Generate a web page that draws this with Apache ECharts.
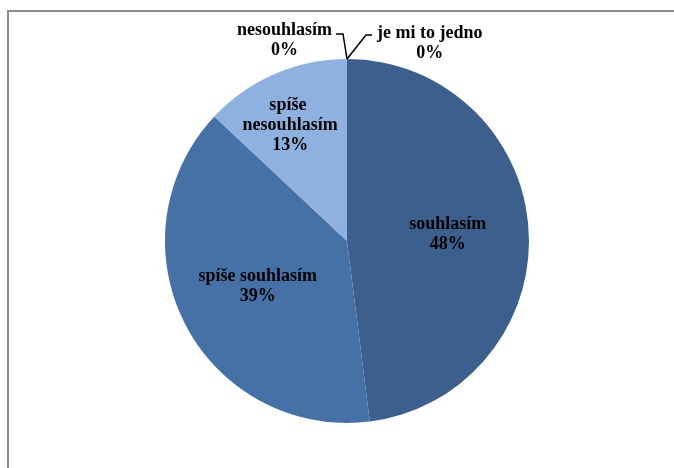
<!DOCTYPE html>
<html>
<head>
<meta charset="utf-8">
<style>
  html, body { margin: 0; padding: 0; background: #ffffff; }
  #chart { width: 674px; height: 468px; }
</style>
<script src="https://cdn.jsdelivr.net/npm/echarts@6/dist/echarts.min.js"></script>
</head>
<body>
<div id="chart"></div>
<script>
// Survey answers and their shares (percent)
const categories = ['souhlasím', 'spíše souhlasím', 'spíše nesouhlasím', 'nesouhlasím', 'je mi to jedno'];
const shares = [48, 39, 13, 0, 0];
const sliceColors = ['#3d5f8e', '#4571a7', '#8fb1e0', '#6f8fc0', '#2f4f7f'];

// Pie geometry (pixels)
const CX = 347, CY = 241, R = 182;

// Inside labels: distance from the centre as a share of the radius, plus a small sideways nudge
const insideRadius = [0.555, 0.55, 0.69];
const insideNudgeX = [0, 0, -7];

const chart = echarts.init(document.getElementById('chart'), null, { renderer: 'canvas' });

const labelFont = {
  fontFamily: '"Liberation Serif", "Times New Roman", serif',
  fontWeight: 'bold',
  fontSize: 18,
  lineHeight: 20,
  color: '#000000'
};

const seriesData = categories.map((name, i) => {
  const item = {
    name: name,
    value: shares[i],
    itemStyle: { color: sliceColors[i] }
  };
  if (shares[i] > 0) {
    item.label = Object.assign({ position: 'inside' }, labelFont);
    item.labelLine = { show: false };
    if (name === 'spíše nesouhlasím') {
      item.label.width = 115;
      item.label.overflow = 'break';
    }
  } else {
    item.label = Object.assign({ position: 'outside' }, labelFont);
    item.labelLine = { show: true, length: 20, length2: 8, lineStyle: { color: '#000000', width: 1.5 } };
  }
  return item;
});

chart.setOption({
  backgroundColor: '#ffffff',
  animation: false,
  graphic: [{
    type: 'rect',
    shape: { x: 8, y: 11, width: 720, height: 520 },
    style: { fill: 'none', stroke: '#8a8a8a', lineWidth: 2 },
    silent: true
  }],
  series: [{
    type: 'pie',
    center: [CX, CY],
    radius: R,
    startAngle: 90,
    clockwise: true,
    avoidLabelOverlap: false,
    itemStyle: { borderWidth: 0 },
    label: {
      formatter: p => p.name + '\n' + Math.round(p.percent) + '%'
    },
    labelLayout: function (params) {
      const i = params.dataIndex;
      const lr = params.labelRect;
      const topX = CX, topY = CY - R;
      if (shares[i] > 0) {
        const lx = lr.x + lr.width / 2 - CX;
        const ly = lr.y + lr.height / 2 - CY;
        const len = Math.sqrt(lx * lx + ly * ly) || 1;
        const k = insideRadius[i] * R / len;
        return {
          x: CX + lx * k + insideNudgeX[i],
          y: CY + ly * k,
          align: 'center',
          verticalAlign: 'middle'
        };
      }
      if (categories[i] === 'nesouhlasím') {
        const endX = topX - 11, endY = topY - 25;
        return {
          x: endX - 4 - lr.width / 2,
          y: endY + 6,
          align: 'center',
          verticalAlign: 'middle',
          labelLinePoints: [[topX, topY], [topX - 4, endY], [endX, endY]]
        };
      }
      const endX = topX + 25, endY = topY - 24;
      return {
        x: endX + 5 + lr.width / 2,
        y: endY + 8,
        align: 'center',
        verticalAlign: 'middle',
        labelLinePoints: [[topX, topY], [topX + 19, endY], [endX, endY]]
      };
    },
    data: seriesData
  }]
});
</script>
</body>
</html>
